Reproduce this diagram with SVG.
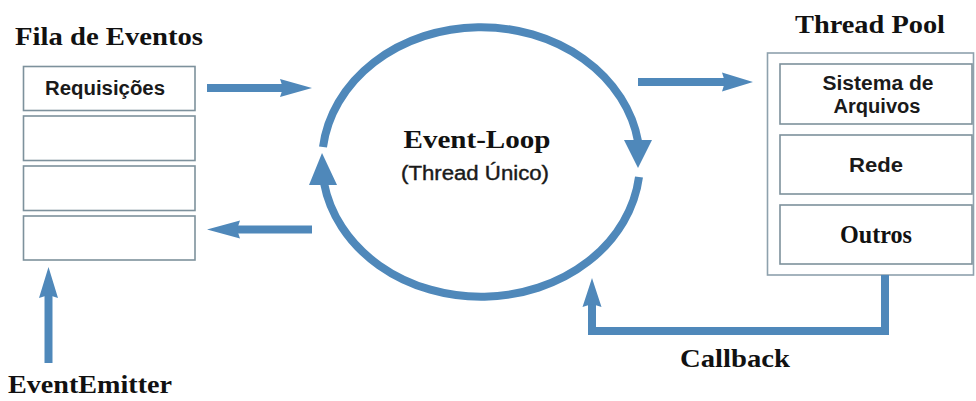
<svg xmlns="http://www.w3.org/2000/svg" width="976" height="401" viewBox="0 0 976 401">
  <style>
    .title { font-family: "Liberation Serif", "Times New Roman", serif; font-weight: bold; font-size: 25px; fill: #111; }
    .label { font-family: "Liberation Sans", Arial, sans-serif; font-weight: bold; font-size: 20px; fill: #1a1a1a; }
    .slot { fill: #fff; stroke: #7d919c; stroke-width: 1.6; }
    .pool { fill: #fff; stroke: #8ea1ad; stroke-width: 1.6; }
    .flow { fill: none; stroke: #4f88ba; stroke-width: 8; }
    .head { fill: #4f88ba; }
  </style>
  <rect width="976" height="401" fill="#fff"/>

  <!-- Event queue -->
  <g id="fila-de-eventos">
    <text class="title" x="15" y="45" textLength="188" lengthAdjust="spacingAndGlyphs">Fila de Eventos</text>
    <rect class="slot" x="23.5" y="66.5" width="171.5" height="44"/>
    <rect class="slot" x="23.5" y="116" width="171.5" height="44.5"/>
    <rect class="slot" x="23.5" y="166" width="171.5" height="44.5"/>
    <rect class="slot" x="23.5" y="216" width="171.5" height="44"/>
    <text class="label" x="105" y="95" text-anchor="middle" textLength="120" lengthAdjust="spacingAndGlyphs">Requisições</text>
  </g>

  <!-- Event loop -->
  <g id="event-loop">
    <text class="title" x="477" y="148" text-anchor="middle" font-size="27" textLength="147" lengthAdjust="spacingAndGlyphs">Event-Loop</text>
    <text class="label" x="475" y="180" text-anchor="middle" font-size="20.5" textLength="148" lengthAdjust="spacingAndGlyphs" style="font-weight:normal;stroke:#1a1a1a;stroke-width:0.4">(Thread Único)</text>
  </g>

  <!-- Thread pool -->
  <g id="thread-pool">
    <text class="title" x="870" y="33" text-anchor="middle" font-size="26" textLength="150" lengthAdjust="spacingAndGlyphs">Thread Pool</text>
    <rect class="pool" x="767.5" y="53" width="206" height="222"/>
    <rect class="slot" x="780" y="64" width="192" height="60"/>
    <rect class="slot" x="780" y="135" width="192" height="59"/>
    <rect class="slot" x="780" y="205" width="192" height="59"/>
    <text class="label" x="878" y="90" text-anchor="middle" textLength="111" lengthAdjust="spacingAndGlyphs">Sistema de</text>
    <text class="label" x="877" y="113" text-anchor="middle" textLength="87" lengthAdjust="spacingAndGlyphs">Arquivos</text>
    <text class="label" x="876" y="172" text-anchor="middle" textLength="54" lengthAdjust="spacingAndGlyphs">Rede</text>
    <text class="title" x="876" y="243" text-anchor="middle" font-size="22" textLength="72" lengthAdjust="spacingAndGlyphs">Outros</text>
  </g>

  <!-- Labels on the outer connectors -->
  <g id="event-emitter">
    <text class="title" x="8" y="393" textLength="164" lengthAdjust="spacingAndGlyphs">EventEmitter</text>
  </g>
  <g id="callback">
    <text class="title" x="680" y="367" textLength="110" lengthAdjust="spacingAndGlyphs">Callback</text>
  </g>

  <!-- Connectors -->
  <g id="connectors">
    <!-- queue -> loop -->
    <line class="flow" x1="207" y1="88" x2="284" y2="88"/>
    <polygon class="head" points="280,79 312,88 280,97 283,88"/>
    <!-- loop -> queue -->
    <line class="flow" x1="312" y1="229.5" x2="236" y2="229.5"/>
    <polygon class="head" points="240,220.5 207,229.5 240,238.5 237,229.5"/>
    <!-- loop -> thread pool -->
    <line class="flow" x1="638" y1="82" x2="726" y2="82"/>
    <polygon class="head" points="722,72.5 753,82 722,91.5 725,82"/>
    <!-- event emitter -> queue -->
    <line class="flow" x1="48.5" y1="363" x2="48.5" y2="294" stroke-width="9"/>
    <polygon class="head" points="39,298 48.5,267 58,298 48.5,295"/>
    <!-- thread pool -> loop (callback) -->
    <polyline class="flow" points="885,275 885,331 592,331 592,304"/>
    <polygon class="head" points="582.5,307 592,278 601.5,307 592,304"/>

    <!-- the loop itself: two arcs, each ending in an arrowhead -->
    <path class="flow" d="M323,147 A159,135 0 0 1 638.2,142"/>
    <polygon class="head" points="624,140 652,140 638,168"/>
    <path class="flow" d="M639,177 A159,135 0 0 1 324,183"/>
    <polygon class="head" points="309,185 337,185 322,153"/>
  </g>
</svg>
